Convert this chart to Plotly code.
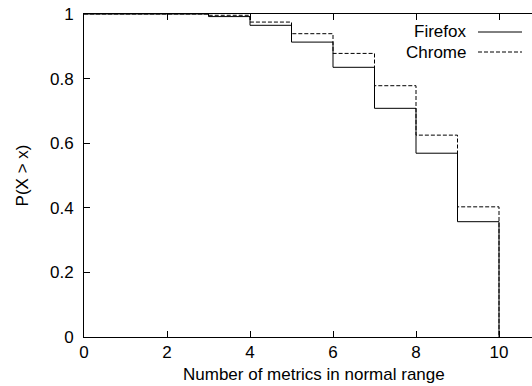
import plotly.graph_objects as go

# Complementary CDF of the number of metrics in normal range
x_vals = [0, 3, 4, 5, 6, 7, 8, 9, 10]
firefox = [1.0, 0.992, 0.965, 0.913, 0.835, 0.708, 0.569, 0.357, 0.0]
chrome = [1.0, 0.996, 0.975, 0.939, 0.878, 0.778, 0.625, 0.403, 0.0]

x_ticks = [0, 2, 4, 6, 8, 10]
y_ticks = [0, 0.2, 0.4, 0.6, 0.8, 1]

FONT = "Liberation Sans, Arial, sans-serif"
SIZE = 17
DASH = "4px,2px"

fig = go.Figure()
fig.add_trace(go.Scatter(x=x_vals, y=firefox, mode="lines", line_shape="hv",
                         line=dict(color="black", width=1), name="Firefox",
                         showlegend=False))
fig.add_trace(go.Scatter(x=x_vals, y=chrome, mode="lines", line_shape="hv",
                         line=dict(color="black", width=1, dash=DASH),
                         name="Chrome", showlegend=False))

# Legend: right-aligned labels followed by line samples
for i, (label, dash) in enumerate([("Firefox", "solid"), ("Chrome", DASH)]):
    ypix = 32 + 20 * i
    yp = 1 - (ypix - 14) / 323
    fig.add_annotation(x=(468 - 84) / 448, y=yp, xref="paper", yref="paper",
                       text=label, showarrow=False, xanchor="right",
                       yanchor="middle", font=dict(family=FONT, size=SIZE, color="black"))
    fig.add_shape(type="line", xref="paper", yref="paper",
                  x0=(478 - 84) / 448, x1=(522 - 84) / 448, y0=yp, y1=yp,
                  line=dict(color="black", width=1, dash=dash))

# x-axis title, centred under the full (wider) plotting frame
fig.add_annotation(x=(314 - 84) / 448, y=-(374 - 337) / 323, xref="paper", yref="paper",
                   text="Number of metrics in normal range", showarrow=False,
                   xanchor="center", yanchor="middle",
                   font=dict(family=FONT, size=SIZE, color="black"))

fig.update_layout(
    width=532, height=386,
    margin=dict(l=84, r=0, t=14, b=49),
    plot_bgcolor="white", paper_bgcolor="white",
    font=dict(family=FONT, size=SIZE, color="black"),
    xaxis=dict(range=[0, 448 / 41.5], tickvals=x_ticks, ticks="inside", ticklen=6,
               tickcolor="black", showline=True, linecolor="black", linewidth=1,
               mirror="ticks", showgrid=False, zeroline=False,
               tickfont=dict(size=SIZE)),
    yaxis=dict(range=[0, 1], tickvals=y_ticks, ticks="inside", ticklen=6,
               tickcolor="black", showline=True, linecolor="black", linewidth=1,
               showgrid=False, zeroline=False, ticklabelstandoff=6,
               tickfont=dict(size=SIZE),
               title=dict(text="P(X > x)", standoff=17, font=dict(size=SIZE))),
)

fig.write_html("out.html")
